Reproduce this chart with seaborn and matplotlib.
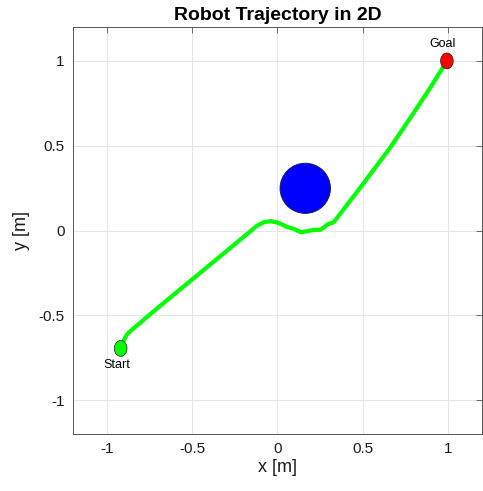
import numpy as np
import pandas as pd
import matplotlib
matplotlib.use("Agg")
import matplotlib.pyplot as plt
from matplotlib.path import Path
from matplotlib.patches import Circle
import seaborn as sns

# Recorded robot path (metres)
path_x = [-0.917, -0.905, -0.885, -0.862, -0.70, -0.50, -0.30, -0.119, -0.08,
          -0.041, -0.002, 0.03, 0.057, 0.096, 0.135, 0.174, 0.213, 0.252, 0.275,
          0.291, 0.33, 0.50, 0.662, 0.78, 0.897, 0.994]
path_y = [-0.69, -0.655, -0.615, -0.592, -0.454, -0.288, -0.122, 0.029, 0.049,
          0.055, 0.047, 0.034, 0.02, 0.01, -0.01, -0.004, 0.004, 0.004, 0.02,
          0.035, 0.049, 0.272, 0.49, 0.665, 0.843, 1.0]

start_xy = (-0.92, -0.695)
goal_xy = (0.994, 1.0)
point_names = ["Start", "Goal"]
point_colors = ["#00ff00", "#ff0000"]

obstacle_center = (0.163, 0.249)
obstacle_radius = 0.148

tick_values = [-1, -0.5, 0, 0.5, 1]
tick_labels = ["-1", "-0.5", "0", "0.5", "1"]

sns.set_style("white")
plt.rcParams["font.family"] = ["Liberation Sans", "DejaVu Sans"]

fig = plt.figure(figsize=(4.83, 4.91), dpi=100)
ax = fig.add_axes([0.151, 0.116, 0.847, 0.829])

# trajectory
traj = pd.DataFrame({"x": path_x, "y": path_y})
sns.lineplot(data=traj, x="x", y="y", sort=False, color="#00ff00",
             linewidth=3.0, solid_joinstyle="round", solid_capstyle="round",
             ax=ax, zorder=3)

# obstacle
ax.add_patch(Circle(obstacle_center, obstacle_radius, facecolor="#0000ff",
                    edgecolor="#1a1a40", linewidth=0.6, zorder=2))

# start / goal markers (slightly tall ellipses)
t = np.linspace(0, 2 * np.pi, 60)
ell = Path(np.column_stack([0.40 * np.cos(t), 0.5 * np.sin(t)]))
pts = pd.DataFrame({"x": [start_xy[0], goal_xy[0]],
                    "y": [start_xy[1], goal_xy[1]],
                    "name": point_names})
sns.scatterplot(data=pts, x="x", y="y", hue="name", palette=point_colors,
                marker=ell, s=130, edgecolor="#202020", linewidth=0.5,
                legend=False, ax=ax, zorder=4)

ax.text(start_xy[0] - 0.025, start_xy[1] - 0.1, point_names[0],
        ha="center", va="center", fontsize=9, color="black")
ax.text(goal_xy[0] - 0.025, goal_xy[1] + 0.1, point_names[1],
        ha="center", va="center", fontsize=9, color="black")

ax.set_xlim(-1.2, 1.2)
ax.set_ylim(-1.2, 1.2)
ax.set_xticks(tick_values)
ax.set_xticklabels(tick_labels)
ax.set_yticks(tick_values)
ax.set_yticklabels(tick_labels)
ax.grid(True, color="#e6e6e6", linewidth=0.7)
ax.set_axisbelow(True)
ax.tick_params(direction="in", length=4, width=0.6, color="#555555",
               labelcolor="#1a1a1a", labelsize=11, top=True, right=True, pad=6)
for sp in ax.spines.values():
    sp.set_visible(True)
    sp.set_color("#555555")
    sp.set_linewidth(0.7)

ax.set_xlabel("x [m]", fontsize=13, labelpad=2, color="#1a1a1a")
ax.set_ylabel("y [m]", fontsize=13, labelpad=6, color="#1a1a1a")
ax.set_title("Robot Trajectory in 2D", fontsize=14, fontweight="bold", pad=5,
             color="black")

fig.savefig("out.png", dpi=100)
